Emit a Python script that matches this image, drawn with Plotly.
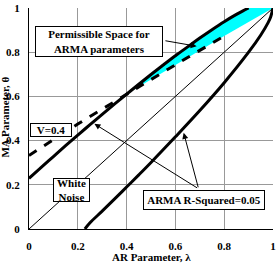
import plotly.graph_objects as go

# White-noise diagonal (lambda = theta)
lam_wn = [0.0, 1.0]
theta_wn = [0.0, 1.0]

# ARMA R-squared = 0.05, upper branch
lam_r2_up = [0.0, 0.05, 0.1, 0.15, 0.2, 0.25, 0.3, 0.35, 0.4, 0.45, 0.5, 0.55,
             0.6, 0.65, 0.7, 0.75, 0.8, 0.85, 0.875, 0.9]
theta_r2_up = [0.229, 0.279, 0.328, 0.377, 0.425, 0.472, 0.519, 0.565, 0.610, 0.655,
               0.699, 0.742, 0.784, 0.824, 0.864, 0.902, 0.938, 0.971, 0.986, 1.000]

# ARMA R-squared = 0.05, lower branch
lam_r2_lo = [0.229, 0.25, 0.3, 0.35, 0.4, 0.45, 0.5, 0.6, 0.7, 0.8, 0.9, 0.95, 0.98, 0.99, 1.0]
theta_r2_lo = [0.0, 0.028, 0.081, 0.135, 0.190, 0.245, 0.301, 0.417, 0.536, 0.662,
               0.800, 0.878, 0.934, 0.958, 1.0]

# V = 0.4 boundary
lam_v = [0.0, 0.05, 0.1, 0.15, 0.2, 0.25, 0.3, 0.35, 0.4, 0.45, 0.5, 0.55, 0.6,
         0.65, 0.7, 0.75, 0.8, 0.85, 0.9, 0.95, 1.0]
theta_v = [0.333, 0.369, 0.405, 0.440, 0.475, 0.509, 0.543, 0.577, 0.611, 0.644,
           0.677, 0.710, 0.743, 0.776, 0.808, 0.840, 0.873, 0.905, 0.937, 0.968, 1.0]

# tick values / labels (both axes)
tick_vals = [0, 0.2, 0.4, 0.6, 0.8, 1]
tick_text = ["0", "0.2", "0.4", "0.6", "0.8", "1"]

FONT = "Liberation Serif"

fig = go.Figure()

# Permissible region (between R2 upper branch / top edge and V=0.4 line)
top_x = [x for x in lam_r2_up if x >= 0.4]
top_y = [y for x, y in zip(lam_r2_up, theta_r2_up) if x >= 0.4]
bot_x = [x for x in lam_v if x >= 0.4]
bot_y = [y for x, y in zip(lam_v, theta_v) if x >= 0.4]
fig.add_trace(go.Scatter(x=top_x + bot_x[::-1], y=top_y + bot_y[::-1], fill="toself",
                         fillcolor="#00FFFF", line=dict(width=0), mode="lines",
                         hoverinfo="skip", showlegend=False))

fig.add_trace(go.Scatter(x=lam_wn, y=theta_wn, mode="lines",
                         line=dict(color="black", width=1), showlegend=False))
fig.add_trace(go.Scatter(x=[x for x in lam_v if x <= 0.8],
                         y=[y for x, y in zip(lam_v, theta_v) if x <= 0.8],
                         mode="lines", line=dict(color="black", width=3, dash="dash"),
                         showlegend=False))
fig.add_trace(go.Scatter(x=lam_r2_up, y=theta_r2_up, mode="lines", line_shape="spline",
                         line=dict(color="black", width=3), showlegend=False))
fig.add_trace(go.Scatter(x=lam_r2_lo, y=theta_r2_lo, mode="lines", line_shape="spline",
                         line=dict(color="black", width=3), showlegend=False))

arrow = dict(showarrow=True, arrowhead=2, arrowsize=1.2, arrowwidth=1, arrowcolor="black",
             axref="x", ayref="y", xref="x", yref="y", text="")
# arrows
fig.add_annotation(x=0.687, y=0.827, ax=0.553, ay=0.853, **arrow)
fig.add_annotation(x=0.268, y=0.476, ax=0.695, ay=0.182, **arrow)
fig.add_annotation(x=0.634, y=0.435, ax=0.695, ay=0.182, **arrow)

box = dict(showarrow=False, xref="x", yref="y", bgcolor="white", bordercolor="black",
           borderwidth=1, font=dict(family=FONT, size=11, color="black"))
fig.add_annotation(x=0.287, y=0.847, text="<b>Permissible Space for<br>ARMA parameters</b>",
                   width=124, height=27, borderpad=1, **box)
fig.add_annotation(x=0.089, y=0.449, text="<b>V=0.4</b>", width=40, height=12,
                   borderpad=0, **box)
fig.add_annotation(x=0.176, y=0.176, text="<b>White<br>Noise</b>", width=35, height=22,
                   borderpad=0, **box)
fig.add_annotation(x=0.717, y=0.129, text="<b>ARMA R-Squared=0.05</b>", width=118,
                   height=16, borderpad=1, **box)

# axis titles
fig.add_annotation(x=0.5, y=-0.127, xref="paper", yref="paper", showarrow=False,
                   xanchor="center", yanchor="middle",
                   text="<b>AR Parameter, λ</b>", font=dict(family=FONT, size=11, color="black"))
fig.add_annotation(x=-0.10, y=0.507, xref="paper", yref="paper", showarrow=False,
                   xanchor="center", yanchor="middle",
                   textangle=-90, text="<b>MA Parameter, θ</b>",
                   font=dict(family=FONT, size=11, color="black"))

axis_common = dict(range=[0, 1], tickvals=tick_vals, ticktext=tick_text,
                   showgrid=True, gridcolor="#999999", gridwidth=1,
                   zeroline=False, showline=True, linecolor="black", linewidth=1,
                   ticks="", ticklabeloverflow="allow",
                   tickfont=dict(family=FONT, size=11, color="black", weight="bold"))
fig.update_xaxes(**axis_common, ticklabelstandoff=7)
fig.update_yaxes(**axis_common, ticklabelstandoff=6)

fig.update_layout(width=278, height=265, margin=dict(l=29, r=2, t=4, b=36),
                  paper_bgcolor="white", plot_bgcolor="white", showlegend=False)

fig.write_html("out.html")
